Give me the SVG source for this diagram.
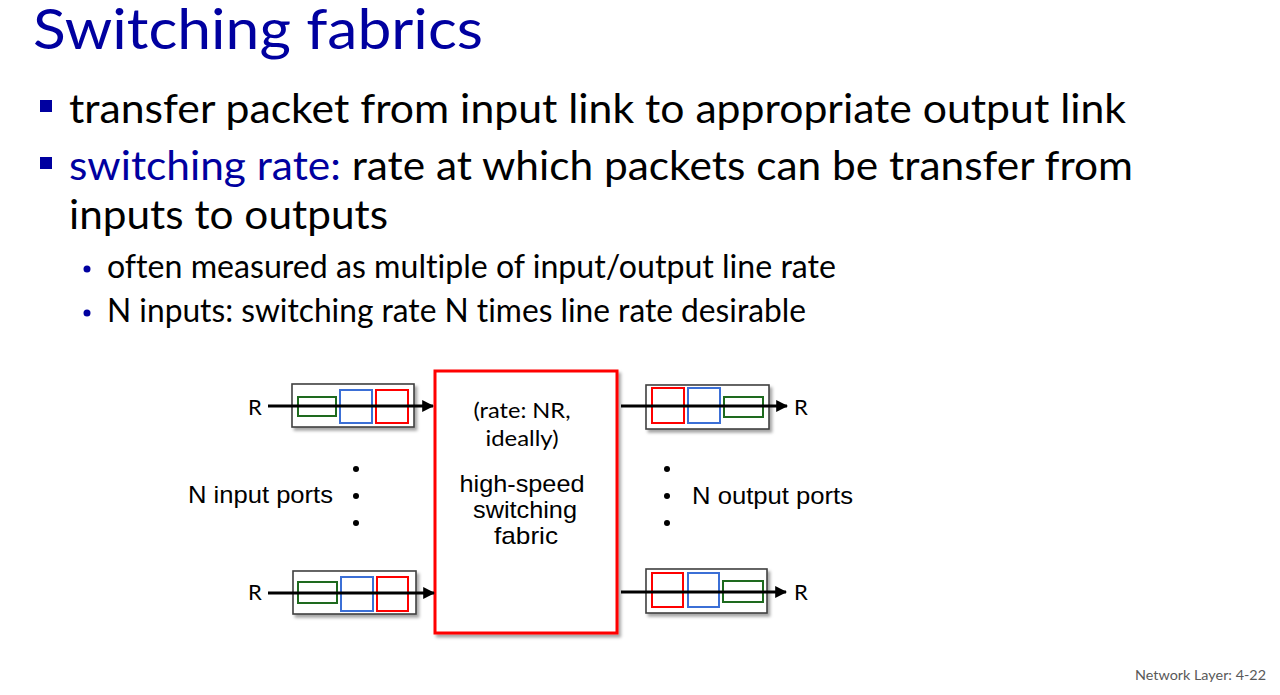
<svg xmlns="http://www.w3.org/2000/svg" width="1280" height="695" viewBox="0 0 1280 695">
<style>
.cal{font-family:Lato,"Open Sans","Liberation Sans",sans-serif;font-variant-ligatures:none}
.ar{font-family:"Liberation Sans",Arial,sans-serif;font-size:24px;fill:#000}
.blue{fill:#0000A0}
.port{fill:#fff;stroke:#404040;stroke-width:1.6}
.g{fill:none;stroke:#1E6A1E;stroke-width:2}
.b{fill:none;stroke:#3B6FD6;stroke-width:2}
.r{fill:none;stroke:#FF0000;stroke-width:2}
.conn{stroke:#000;stroke-width:3;fill:none;marker-end:url(#ah)}
.dot{fill:#000}
</style>
<defs>
<filter id="sh" x="-10%" y="-10%" width="130%" height="140%">
<feDropShadow dx="2.5" dy="3" stdDeviation="1.5" flood-color="#000" flood-opacity="0.35"/>
</filter>
<marker id="ah" viewBox="0 0 10 10" refX="9" refY="5" markerWidth="4" markerHeight="4" markerUnits="strokeWidth" orient="auto">
<path d="M0,0 L10,5 L0,10 z" fill="#000"/>
</marker>
</defs>
<rect width="1280" height="695" fill="#fff"/>

<g id="title">
<text class="cal blue" x="33" y="49" font-size="57" textLength="450" lengthAdjust="spacingAndGlyphs">Switching fabrics</text>
</g>

<g id="bullets">
<rect x="40" y="100" width="12" height="12" class="blue"/>
<text class="cal" x="69" y="123" font-size="41" textLength="1057" lengthAdjust="spacingAndGlyphs">transfer packet from input link to appropriate output link</text>
<rect x="40" y="157" width="12" height="12" class="blue"/>
<text class="cal" x="69" y="180" font-size="41" textLength="1064" lengthAdjust="spacingAndGlyphs"><tspan class="blue">switching rate:</tspan> rate at which packets can be transfer from</text>
<text class="cal" x="69" y="229" font-size="41" textLength="319" lengthAdjust="spacingAndGlyphs">inputs to outputs</text>
<circle cx="87" cy="269" r="3.5" class="blue"/>
<text class="cal" x="107" y="278" font-size="32" textLength="729" lengthAdjust="spacingAndGlyphs">often measured as multiple of input/output line rate</text>
<circle cx="87" cy="313" r="3.5" class="blue"/>
<text class="cal" x="107" y="322" font-size="32" textLength="699" lengthAdjust="spacingAndGlyphs">N inputs: switching rate N times line rate desirable</text>
</g>

<g id="input-port-top">
<rect x="292" y="384" width="122" height="43" class="port" filter="url(#sh)"/>
<rect x="298" y="397" width="38" height="19" class="g"/>
<rect x="340" y="390" width="32" height="33" class="b"/>
<rect x="376" y="390" width="32" height="33" class="r"/>
<text class="cal" x="248" y="415" font-size="22">R</text>
</g>

<g id="input-port-bottom">
<rect x="293" y="571" width="123" height="43" class="port" filter="url(#sh)"/>
<rect x="298" y="582" width="39" height="21" class="g"/>
<rect x="341" y="577" width="32" height="34" class="b"/>
<rect x="377" y="577" width="31" height="34" class="r"/>
<text class="cal" x="248" y="600" font-size="22">R</text>
</g>

<g id="output-port-top">
<rect x="646" y="385" width="123" height="44" class="port" filter="url(#sh)"/>
<rect x="652" y="388" width="32" height="35" class="r"/>
<rect x="688" y="388" width="32" height="35" class="b"/>
<rect x="724" y="397" width="39" height="20" class="g"/>
<text class="cal" x="794" y="415" font-size="22">R</text>
</g>

<g id="output-port-bottom">
<rect x="646" y="569" width="121" height="44" class="port" filter="url(#sh)"/>
<rect x="652" y="573" width="31" height="34" class="r"/>
<rect x="688" y="573" width="31" height="34" class="b"/>
<rect x="723" y="581" width="40" height="21" class="g"/>
<text class="cal" x="794" y="600" font-size="22">R</text>
</g>

<g id="switching-fabric">
<rect x="435" y="371" width="182" height="262" fill="#fff" stroke="#FF0000" stroke-width="3" filter="url(#sh)"/>
<text class="cal" x="522" y="418" font-size="21" text-anchor="middle" textLength="97" lengthAdjust="spacingAndGlyphs">(rate: NR,</text>
<text class="cal" x="522" y="446" font-size="21" text-anchor="middle" textLength="73" lengthAdjust="spacingAndGlyphs">ideally)</text>
<text class="ar" x="522" y="492" text-anchor="middle" textLength="125" lengthAdjust="spacingAndGlyphs">high-speed</text>
<text class="ar" x="525" y="518" text-anchor="middle" textLength="104" lengthAdjust="spacingAndGlyphs">switching</text>
<text class="ar" x="526" y="544" text-anchor="middle" textLength="64" lengthAdjust="spacingAndGlyphs">fabric</text>
</g>

<g id="input-ports-label">
<text class="ar" x="188" y="503" textLength="145" lengthAdjust="spacingAndGlyphs">N input ports</text>
<circle cx="356" cy="469" r="3" class="dot"/>
<circle cx="356" cy="496" r="3" class="dot"/>
<circle cx="356" cy="523" r="3" class="dot"/>
</g>

<g id="output-ports-label">
<text class="ar" x="692" y="504" textLength="161" lengthAdjust="spacingAndGlyphs">N output ports</text>
<circle cx="667" cy="469" r="3" class="dot"/>
<circle cx="667" cy="496" r="3" class="dot"/>
<circle cx="667" cy="523" r="3" class="dot"/>
</g>

<g id="connectors">
<line x1="268" y1="406" x2="433" y2="406" class="conn"/>
<line x1="268" y1="593" x2="434" y2="593" class="conn"/>
<line x1="621" y1="406" x2="787" y2="406" class="conn"/>
<line x1="621" y1="592" x2="786" y2="592" class="conn"/>
</g>

<g id="footer">
<text class="cal" x="1135" y="680" font-size="14" fill="#595959" textLength="131" lengthAdjust="spacingAndGlyphs">Network Layer: 4-22</text>
</g>
</svg>
